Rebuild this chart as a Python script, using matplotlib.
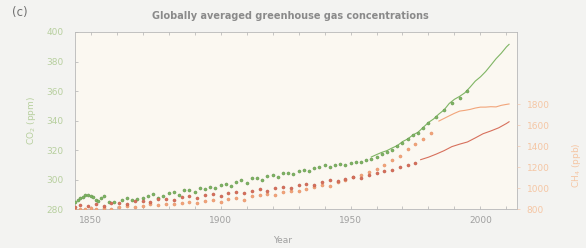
import numpy as np
import matplotlib
matplotlib.use('Agg')
import matplotlib.pyplot as plt
from matplotlib.ticker import MultipleLocator

# ice core / firn samples (dots) and direct measurements (lines)
co2_core_year = [1844, 1845, 1846, 1847, 1848, 1849, 1850, 1851, 1852, 1853, 1854, 1855,
                 1857, 1859, 1862, 1864, 1866, 1868, 1870, 1872, 1874, 1876, 1878, 1880,
                 1882, 1884, 1886, 1888, 1890, 1892, 1894, 1896, 1898, 1900, 1902, 1904,
                 1906, 1908, 1910, 1912, 1914, 1916, 1918, 1920, 1922, 1924, 1926, 1928,
                 1930, 1932, 1934, 1936, 1938, 1940, 1942, 1944, 1946, 1948, 1950, 1952,
                 1954, 1956, 1958, 1960, 1962, 1964, 1966, 1968, 1970, 1972, 1974, 1976,
                 1978, 1980, 1983, 1986, 1989, 1992, 1995]
co2_core_ppm = [284.5, 286.0, 287.2, 288.0, 289.3, 289.6, 289.0, 288.2, 286.4, 285.8, 287.5, 288.6,
                285.0, 284.8, 286.3, 287.8, 285.9, 286.6, 287.7, 288.9, 290.1, 287.5, 289.0, 290.6,
                291.4, 289.2, 292.6, 293.0, 291.3, 294.2, 293.6, 295.0, 294.0, 296.3, 297.1, 295.8,
                298.6, 299.4, 297.6, 300.8, 301.2, 300.0, 302.3, 303.0, 301.9, 304.2, 304.6, 303.8,
                305.9, 306.6, 305.7, 307.7, 308.4, 309.6, 308.7, 309.9, 310.5, 309.6, 311.1, 311.6,
                312.0, 313.1, 313.9, 315.4, 317.3, 318.6, 320.3, 322.6, 324.8, 327.2, 329.9, 331.6,
                334.7, 338.0, 342.6, 347.2, 351.8, 355.4, 360.0]
co2_line_year = [1958, 1960, 1962, 1964, 1966, 1968, 1970, 1972, 1974, 1976, 1978, 1980,
                 1982, 1984, 1986, 1988, 1990, 1992, 1994, 1996, 1998, 2000, 2002, 2004,
                 2006, 2008, 2010, 2011]
co2_line_ppm = [315.3, 316.9, 318.4, 319.6, 321.4, 323.0, 325.7, 327.5, 330.2, 332.1, 335.4, 338.7,
                341.1, 344.4, 347.2, 351.6, 354.4, 356.4, 358.8, 362.6, 366.7, 369.6, 373.2, 377.5,
                381.9, 385.6, 389.9, 391.6]

ch4_core_year = [1844, 1846, 1848, 1850, 1852, 1855, 1858, 1861, 1864, 1867, 1870, 1873,
                 1876, 1879, 1882, 1885, 1888, 1891, 1894, 1897, 1900, 1903, 1906, 1909,
                 1912, 1915, 1918, 1921, 1924, 1927, 1930, 1933, 1936, 1939, 1942, 1945,
                 1948, 1951, 1954, 1957, 1960, 1963, 1966, 1969, 1972, 1975, 1978, 1981]
ch4_core_ppb = [792, 800, 796, 808, 798, 812, 804, 818, 826, 815, 832, 844,
                836, 852, 848, 862, 870, 858, 878, 884, 872, 896, 905, 890,
                922, 930, 942, 935, 962, 975, 968, 995, 1012, 1030, 1018, 1058,
                1075, 1102, 1128, 1150, 1180, 1222, 1268, 1310, 1372, 1420, 1470, 1530]
ch4_line_year = [1984, 1986, 1988, 1990, 1992, 1994, 1996, 1998, 2000, 2002, 2004, 2006,
                 2008, 2010, 2011]
ch4_line_ppb = [1640, 1665, 1690, 1714, 1735, 1742, 1751, 1764, 1773, 1773, 1777, 1775,
                1790, 1799, 1803]

n2o_core_year = [1844, 1846, 1849, 1852, 1855, 1858, 1861, 1864, 1867, 1870, 1873, 1876,
                 1879, 1882, 1885, 1888, 1891, 1894, 1897, 1900, 1903, 1906, 1909, 1912,
                 1915, 1918, 1921, 1924, 1927, 1930, 1933, 1936, 1939, 1942, 1945, 1948,
                 1951, 1954, 1957, 1960, 1963, 1966, 1969, 1972, 1975]
n2o_core_ppb = [269.5, 270.4, 269.8, 271.0, 270.2, 271.8, 272.2, 271.3, 272.9, 273.4, 272.6, 274.2,
                274.8, 273.9, 275.6, 276.1, 274.9, 276.8, 277.5, 276.6, 278.3, 279.0, 278.1, 279.8,
                280.6, 279.9, 281.7, 282.4, 281.8, 283.5, 284.3, 283.4, 285.6, 286.4, 285.9, 287.6,
                288.9, 288.1, 290.2, 291.4, 292.6, 293.0, 294.8, 296.3, 297.8]
n2o_line_year = [1977, 1980, 1983, 1986, 1989, 1992, 1995, 1998, 2001, 2004, 2007, 2010, 2011]
n2o_line_ppb = [299.8, 301.4, 303.4, 305.6, 308.2, 309.8, 311.2, 313.8, 316.5, 318.3, 320.3, 323.1, 324.2]

green = '#7fb564'
orange = '#f2a57a'
red = '#d7705c'

fig = plt.figure(figsize=(5.86, 2.48), dpi=100, facecolor='#f3f3f1')
ax = fig.add_axes([0.128, 0.157, 0.754, 0.714])
ax.set_facecolor('#fbf8f1')

ax.plot(co2_line_year, co2_line_ppm, color=green, lw=0.8, zorder=3)
ax.scatter(co2_core_year, co2_core_ppm, s=5, color=green, edgecolors='#5f8f48',
           linewidths=0.3, zorder=4)
ax.set_xlim(1844, 2014)
ax.set_ylim(280, 400)
ax.set_yticks(np.arange(280, 401, 20))
ax.set_xticks([1850, 1900, 1950, 2000])
ax.xaxis.set_minor_locator(MultipleLocator(10))
ax.tick_params(axis='x', which='both', direction='in', top=True, length=2.5,
               width=0.5, color='#b0b0b0', labelsize=6.5, labelcolor='#a0a0a0', pad=5)
ax.tick_params(axis='y', direction='in', length=2.5, width=0.5, color='#b0b0b0',
               labelsize=6.5, labelcolor='#b7cf9e', pad=8)
ax.set_xlabel('Year', fontsize=6.5, color='#a0a0a0', labelpad=1)
ax.xaxis.set_label_coords(0.47, -0.15)
ax.set_ylabel('CO$_2$ (ppm)', fontsize=6.5, color='#b7cf9e', labelpad=6)
for s in ax.spines.values():
    s.set_color('#b8b8b8')
    s.set_linewidth(0.6)

ax2 = ax.twinx()
ax2.plot(ch4_line_year, ch4_line_ppb, color=orange, lw=0.8, zorder=3)
ax2.scatter(ch4_core_year, ch4_core_ppb, s=5, color=orange, edgecolors='#e08a60',
            linewidths=0.3, zorder=4)
ax2.set_ylim(800, 2490)
ax2.set_yticks(np.arange(800, 1801, 200))
ax2.tick_params(axis='y', direction='out', length=2, width=0.5, color='#f3c9ad',
                labelsize=6.5, labelcolor='#f5c6a4', pad=5)
ax2.set_ylabel('CH$_4$ (ppb)', fontsize=6.5, color='#f5c6a4', rotation=90, labelpad=8)
ax2.yaxis.set_label_coords(1.12, 0.25)
for s in ax2.spines.values():
    s.set_visible(False)

ax3 = ax.twinx()
ax3.plot(n2o_line_year, n2o_line_ppb, color=red, lw=0.8, zorder=3)
ax3.scatter(n2o_core_year, n2o_core_ppb, s=5, color=red, edgecolors='#b85a48',
            linewidths=0.3, zorder=4)
ax3.set_ylim(268, 382)
ax3.axis('off')

fig.text(0.495, 0.935, 'Globally averaged greenhouse gas concentrations', ha='center',
         va='center', fontsize=7, fontweight='bold', color='#8a8a8a')
fig.text(0.02, 0.948, '(c)', ha='left', va='center', fontsize=8.5, color='#707070')

fig.savefig('out.png', dpi=100, facecolor=fig.get_facecolor())
